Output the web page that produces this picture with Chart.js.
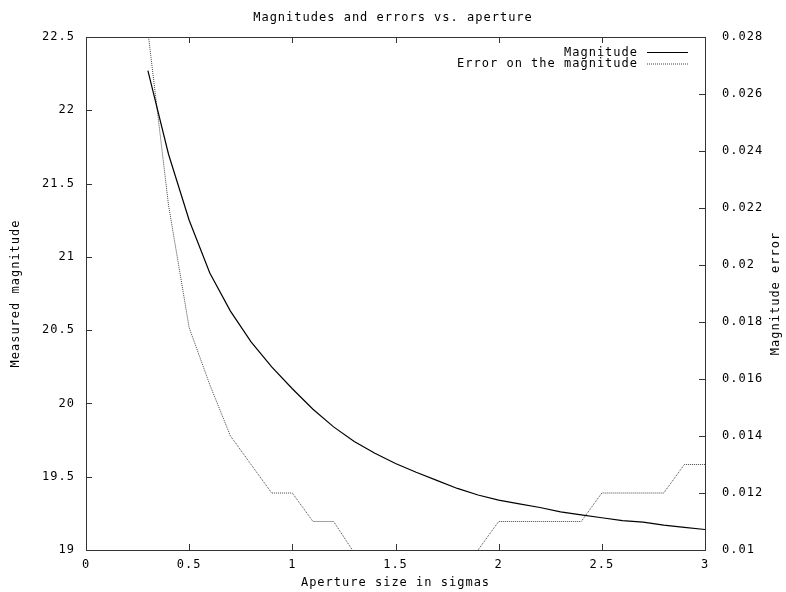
<!DOCTYPE html>
<html>
<head>
<meta charset="utf-8">
<script src="https://cdn.jsdelivr.net/npm/chart.js@4"></script>
<style>
  html, body { margin: 0; padding: 0; background: #fff; }
</style>
</head>
<body>
<canvas id="magChart" width="786" height="592"></canvas>
<script>
const apertures = [0.3, 0.4, 0.5, 0.6, 0.7, 0.8, 0.9, 1.0, 1.1, 1.2, 1.3, 1.4, 1.5, 1.6,
    1.7, 1.8, 1.9, 2.0, 2.1, 2.2, 2.3, 2.4, 2.5, 2.6, 2.7, 2.8, 2.9, 3.0];
const magnitudes = [22.27, 21.70, 21.25, 20.89, 20.63, 20.42, 20.25, 20.10, 19.96, 19.84,
    19.74, 19.66, 19.59, 19.53, 19.475, 19.42, 19.375, 19.34, 19.315, 19.29, 19.26, 19.24,
    19.22, 19.20, 19.19, 19.17, 19.155, 19.14];
const magErrors = [0.0282, 0.0221, 0.0178, 0.0158, 0.014, 0.013, 0.012, 0.012, 0.011, 0.011,
    0.0099, 0.009, 0.009, 0.009, 0.009, 0.009, 0.010, 0.011, 0.011, 0.011, 0.011, 0.011,
    0.012, 0.012, 0.012, 0.012, 0.013, 0.013];

const xTicks = [0, 0.5, 1, 1.5, 2, 2.5, 3];
const yTicks = [19, 19.5, 20, 20.5, 21, 21.5, 22, 22.5];
const y2Ticks = [0.01, 0.012, 0.014, 0.016, 0.018, 0.02, 0.022, 0.024, 0.026, 0.028];

const fontFamily = "'DejaVu Sans Mono', monospace";
Chart.defaults.font.family = fontFamily;
Chart.defaults.font.size = 12;
Chart.defaults.color = '#000';

const fmt = v => String(+Number(v).toFixed(3));
const setTicks = list => scale => { scale.ticks = list.map(value => ({ value })); };

// gnuplot's font is wide, so space the letters out a bit
const spacing = {
    id: 'spacing',
    beforeUpdate(chart) { chart.ctx.letterSpacing = '1px'; },
    beforeDraw(chart) { chart.ctx.letterSpacing = '1px'; }
};

// border box, inward ticks, right axis title, legend
const frame = {
    id: 'frame',
    afterDraw(chart) {
        const { ctx, chartArea: a, scales } = chart;
        const len = 6;
        ctx.save();
        ctx.strokeStyle = '#333';
        ctx.lineWidth = 1;
        ctx.beginPath();
        scales.x.ticks.forEach(t => {
            const px = Math.round(scales.x.getPixelForValue(t.value)) + 0.5;
            ctx.moveTo(px, a.bottom); ctx.lineTo(px, a.bottom - len);
            ctx.moveTo(px, a.top); ctx.lineTo(px, a.top + len);
        });
        scales.y.ticks.forEach(t => {
            const py = Math.round(scales.y.getPixelForValue(t.value)) + 0.5;
            ctx.moveTo(a.left, py); ctx.lineTo(a.left + len, py);
        });
        scales.y2.ticks.forEach(t => {
            const py = Math.round(scales.y2.getPixelForValue(t.value)) + 0.5;
            ctx.moveTo(a.right, py); ctx.lineTo(a.right - len, py);
        });
        ctx.stroke();
        ctx.strokeRect(a.left + 0.5, a.top + 0.5, a.right - a.left, a.bottom - a.top);

        ctx.font = '12px ' + fontFamily;
        ctx.fillStyle = '#000';

        // legend, text on the left of the sample
        chart.data.datasets.forEach((ds, i) => {
            const y = a.top + 15.5 + i * 11.5;
            ctx.textAlign = 'right';
            ctx.textBaseline = 'middle';
            ctx.fillText(ds.label, a.right - 67, y);
            ctx.beginPath();
            ctx.setLineDash(ds.borderDash || []);
            ctx.strokeStyle = ds.borderColor;
            ctx.lineWidth = ds.borderWidth;
            ctx.moveTo(a.right - 58, y);
            ctx.lineTo(a.right - 17, y);
            ctx.stroke();
        });
        ctx.setLineDash([]);

        // right axis title reads bottom to top like the left one
        ctx.translate(776, (a.top + a.bottom) / 2);
        ctx.rotate(-Math.PI / 2);
        ctx.textAlign = 'center';
        ctx.textBaseline = 'middle';
        ctx.fillText('Magnitude error', 0, 0);
        ctx.restore();
    }
};

const magChart = new Chart(document.getElementById('magChart'), {
    type: 'line',
    data: {
        datasets: [{
            label: 'Magnitude',
            data: apertures.map((x, i) => ({ x, y: magnitudes[i] })),
            borderColor: '#000',
            borderWidth: 1.2,
            pointRadius: 0,
            fill: false,
            yAxisID: 'y'
        }, {
            label: 'Error on the magnitude',
            data: apertures.map((x, i) => ({ x, y: magErrors[i] })),
            borderColor: '#444',
            borderWidth: 1,
            borderDash: [1, 1],
            pointRadius: 0,
            fill: false,
            yAxisID: 'y2'
        }]
    },
    options: {
        responsive: false,
        animation: false,
        layout: { padding: 0 },
        plugins: {
            legend: { display: false },
            tooltip: { enabled: false },
            title: {
                display: true,
                text: 'Magnitudes and errors vs. aperture',
                color: '#000',
                font: { size: 12, weight: 'normal', lineHeight: 1 },
                padding: { top: 12, bottom: 13 }
            }
        },
        scales: {
            x: {
                type: 'linear',
                min: 0,
                max: 3,
                afterBuildTicks: setTicks(xTicks),
                afterFit: s => { s.height = 42; },
                grid: { display: false, drawTicks: false },
                border: { display: false },
                ticks: { padding: 8, callback: fmt, maxRotation: 0 },
                title: { display: true, text: 'Aperture size in sigmas', padding: { top: 0, bottom: 2 } }
            },
            y: {
                position: 'left',
                min: 19,
                max: 22.5,
                afterBuildTicks: setTicks(yTicks),
                afterFit: s => { s.width = 86; },
                grid: { display: false, drawTicks: false },
                border: { display: false },
                ticks: { padding: 11, callback: fmt },
                title: { display: true, text: 'Measured magnitude', padding: { top: 9, bottom: 0 } }
            },
            y2: {
                position: 'right',
                min: 0.01,
                max: 0.028,
                afterBuildTicks: setTicks(y2Ticks),
                afterFit: s => { s.width = 81; },
                grid: { display: false, drawTicks: false },
                border: { display: false },
                ticks: { padding: 17, callback: fmt }
            }
        }
    },
    plugins: [spacing, frame]
});
</script>
</body>
</html>
